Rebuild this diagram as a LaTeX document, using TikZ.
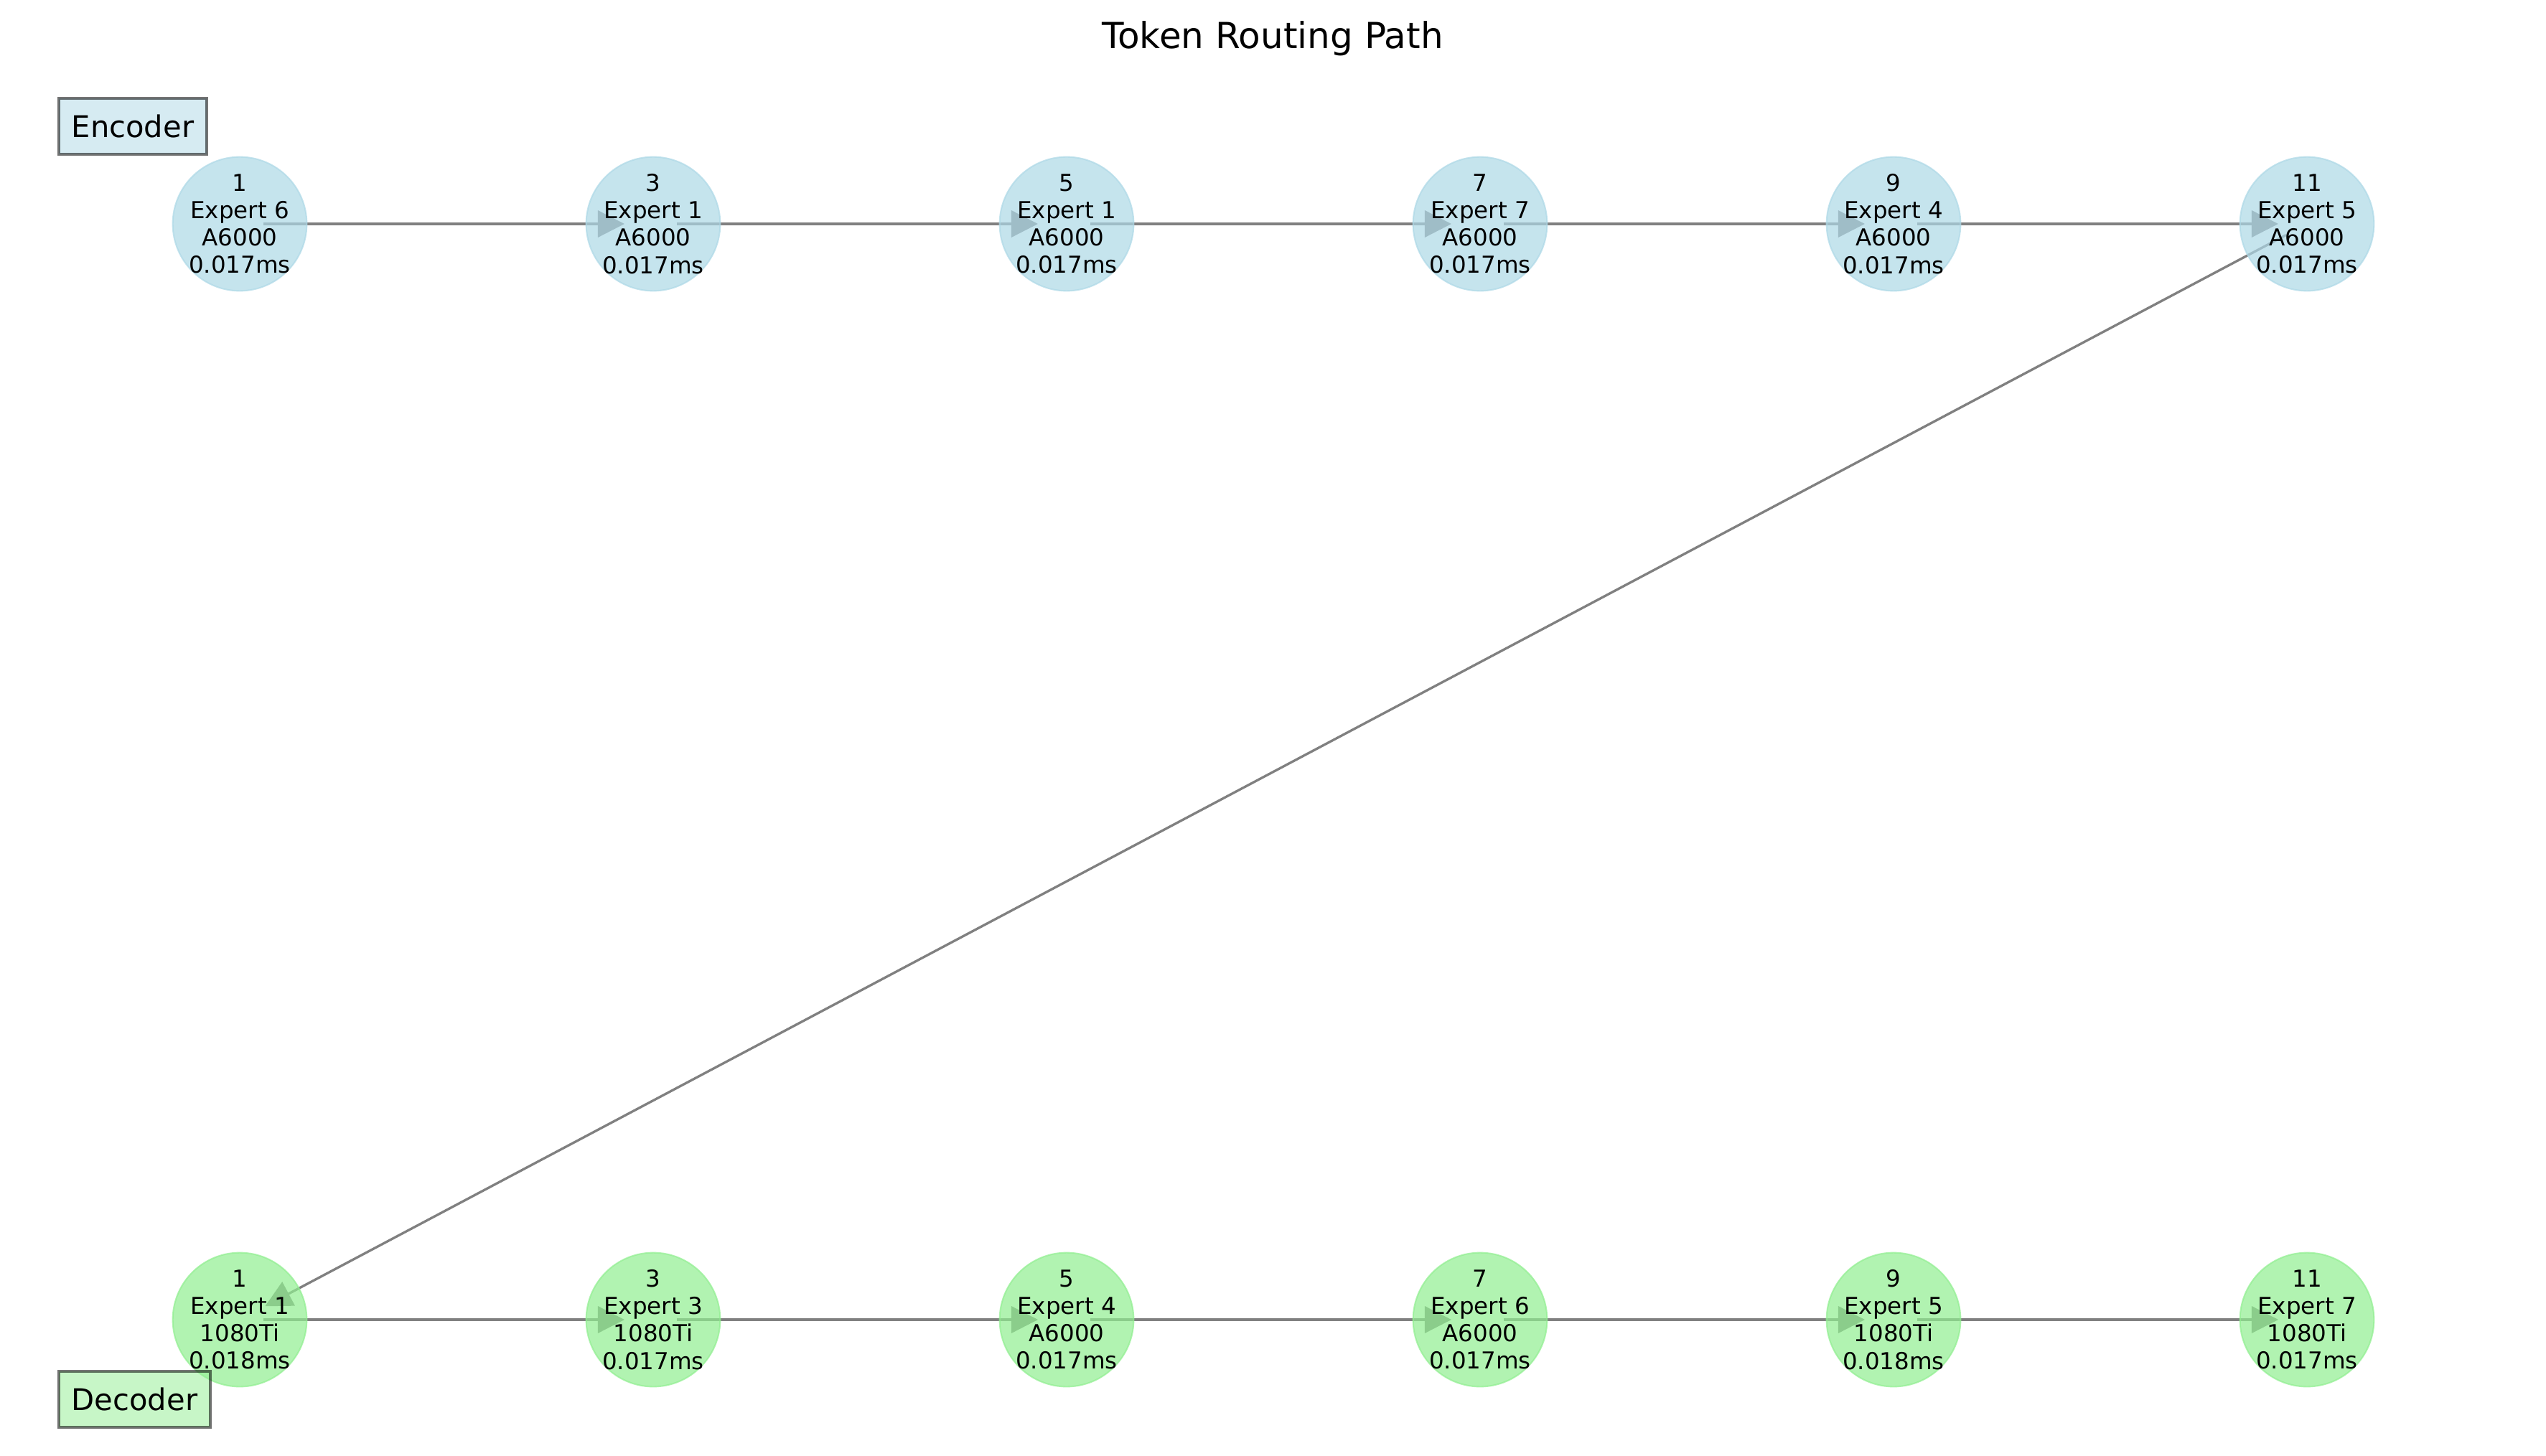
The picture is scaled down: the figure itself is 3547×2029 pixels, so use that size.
\documentclass[tikz,border=0pt]{standalone}
\usepackage{fontspec}
\setmainfont{DejaVu Sans}
\usetikzlibrary{arrows.meta,backgrounds}
\definecolor{encfill}{HTML}{ADD8E6}
\definecolor{decfill}{HTML}{90EE90}
\definecolor{edgegray}{HTML}{808080}
\begin{document}
\begin{tikzpicture}[x=0.24pt,y=-0.24pt,
  nodetext/.style={align=center,inner sep=0pt,text opacity=1,
    font=\fontsize{7.8}{9.15}\selectfont},
  expnode/.style={circle,minimum size=44.8pt,inner sep=0pt,line width=0.5pt,
    fill opacity=0.7,draw opacity=0.7},
  encnode/.style={expnode,fill=encfill,draw=encfill,label={[nodetext]center:#1}},
  decnode/.style={expnode,fill=decfill,draw=decfill,label={[nodetext]center:#1}},
  route/.style={draw=edgegray,line width=0.8pt,shorten <=7.9pt,shorten >=9.6pt,
    -{Triangle[length=8.9pt,width=8.9pt]}},
  groupbox/.style={draw=black,draw opacity=0.55,line width=0.8pt,fill opacity=0.5,text opacity=1,
    inner xsep=4.25pt,minimum height=18.7pt,font=\fontsize{10}{12}\selectfont},
]
\useasboundingbox (0,0) rectangle (3547,2029);
\node[font=\fontsize{12}{14}\selectfont,anchor=base] (title) at (1773,68) {Token Routing Path};
% encoder row
\node[encnode={1\\Expert 6\\A6000\\0.017ms}]  (e1)  at (334,312)  {};
\node[encnode={3\\Expert 1\\A6000\\0.017ms}]  (e3)  at (910,312)  {};
\node[encnode={5\\Expert 1\\A6000\\0.017ms}]  (e5)  at (1486,312) {};
\node[encnode={7\\Expert 7\\A6000\\0.017ms}]  (e7)  at (2062,312) {};
\node[encnode={9\\Expert 4\\A6000\\0.017ms}]  (e9)  at (2638,312) {};
\node[encnode={11\\Expert 5\\A6000\\0.017ms}] (e11) at (3214,312) {};
% decoder row
\node[decnode={1\\Expert 1\\1080Ti\\0.018ms}]  (d1)  at (334,1839)  {};
\node[decnode={3\\Expert 3\\1080Ti\\0.017ms}]  (d3)  at (910,1839)  {};
\node[decnode={5\\Expert 4\\A6000\\0.017ms}]   (d5)  at (1486,1839) {};
\node[decnode={7\\Expert 6\\A6000\\0.017ms}]   (d7)  at (2062,1839) {};
\node[decnode={9\\Expert 5\\1080Ti\\0.018ms}]  (d9)  at (2638,1839) {};
\node[decnode={11\\Expert 7\\1080Ti\\0.017ms}] (d11) at (3214,1839) {};
\begin{pgfonlayer}{background}
\draw[route] (e1.center) -- (e3.center);
\draw[route] (e3.center) -- (e5.center);
\draw[route] (e5.center) -- (e7.center);
\draw[route] (e7.center) -- (e9.center);
\draw[route] (e9.center) -- (e11.center);
\draw[route] (e11.center) -- (d1.center);
\draw[route] (d1.center) -- (d3.center);
\draw[route] (d3.center) -- (d5.center);
\draw[route] (d5.center) -- (d7.center);
\draw[route] (d7.center) -- (d9.center);
\draw[route] (d9.center) -- (d11.center);
\end{pgfonlayer}
% group labels
\node[groupbox,fill=encfill] (enclabel) at (185,176) {Encoder};
\node[groupbox,fill=decfill] (declabel) at (187.5,1950) {Decoder};
\end{tikzpicture}
\end{document}
